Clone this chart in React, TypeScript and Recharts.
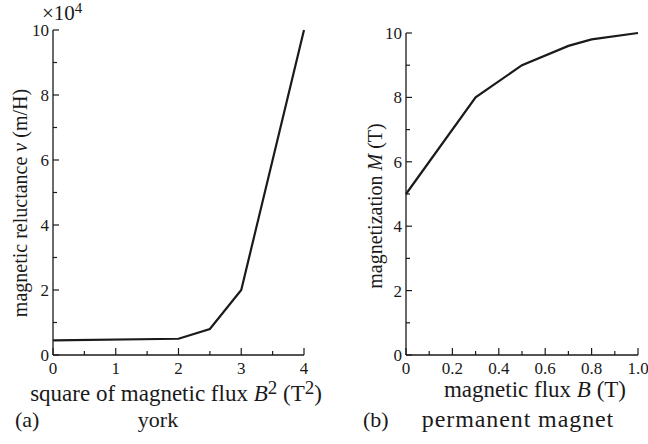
import { LineChart, Line, XAxis, YAxis } from "recharts";

// left: york (values in units of 10^4 m/H)
const yorkB2 = [0, 2, 2.5, 3, 4];
const yorkNu = [0.45, 0.5, 0.8, 2, 10];
const yorkXTicks = [0, 0.5, 1, 1.5, 2, 2.5, 3, 3.5, 4];

// right: permanent magnet
const magnetB = [0, 0.3, 0.5, 0.7, 0.8, 1.0];
const magnetM = [5, 8, 9, 9.6, 9.8, 10];
const magnetXTicks = [0, 0.1, 0.2, 0.3, 0.4, 0.5, 0.6, 0.7, 0.8, 0.9, 1.0];
const magnetXLabels: Record<number, string> = { 0: "0", 0.2: "0.2", 0.4: "0.4", 0.6: "0.6", 0.8: "0.8", 1: "1.0" };

const yTicks = [0, 1, 2, 3, 4, 5, 6, 7, 8, 9, 10];

const FONT = "'Liberation Serif', 'Times New Roman', serif";
const INK = "#1a1a1a";
const serif = { fontFamily: FONT };

const yorkData = yorkB2.map((b, i) => ({ b, v: yorkNu[i] }));
const magnetData = magnetB.map((b, i) => ({ b, m: magnetM[i] }));

// ticks point inward, majors are longer and carry a label
const makeXTick = (isMajor: (v: number) => boolean, label: (v: number) => string) => (props: any) => {
    const { x, y, payload } = props;
    const major = isMajor(payload.value);
    return (
        <g>
            <line x1={x} x2={x} y1={y} y2={y - (major ? 7 : 4)} stroke={INK} strokeWidth={1.2} />
            {major && (
                <text x={x} y={y + 19} textAnchor="middle" style={{ ...serif, fontSize: 17 }} fill={INK}>
                    {label(payload.value)}
                </text>
            )}
        </g>
    );
};

const YTick = (props: any) => {
    const { x, y, payload } = props;
    const major = payload.value % 2 === 0;
    return (
        <g>
            <line x1={x} x2={x + (major ? 6 : 4)} y1={y} y2={y} stroke={INK} strokeWidth={1.2} />
            {major && (
                <text x={x - 4} y={y} dy="0.35em" textAnchor="end" style={{ ...serif, fontSize: 17 }} fill={INK}>
                    {payload.value}
                </text>
            )}
        </g>
    );
};

const YorkXTick = makeXTick((v) => Number.isInteger(v), (v) => String(v));
const MagnetXTick = makeXTick(
    (v) => Math.round(v * 10) % 2 === 0,
    (v) => magnetXLabels[Math.round(v * 10) / 10] ?? ""
);

const axisLine = { stroke: INK, strokeWidth: 1.3 };

export default function App() {
    return (
        <div style={{ position: "absolute", left: 0, top: 0, width: 648, height: 444, background: "#fff", ...serif }}>
            <div style={{ position: "absolute", left: 0, top: 0 }}>
                <LineChart width={320} height={444} data={yorkData} margin={{ top: 30, right: 16, bottom: 59, left: 0 }}>
                    <XAxis
                        dataKey="b"
                        type="number"
                        domain={[0, 4]}
                        ticks={yorkXTicks}
                        interval={0}
                        height={30}
                        tickSize={0}
                        tickMargin={0}
                        tickLine={false}
                        axisLine={axisLine}
                        tick={<YorkXTick />}
                    />
                    <YAxis
                        type="number"
                        domain={[0, 10]}
                        ticks={yTicks}
                        interval={0}
                        width={53}
                        tickSize={0}
                        tickMargin={0}
                        tickLine={false}
                        axisLine={axisLine}
                        tick={<YTick />}
                    />
                    <Line type="linear" dataKey="v" stroke={INK} strokeWidth={2.2} dot={false} isAnimationActive={false} />
                </LineChart>
            </div>
            <div style={{ position: "absolute", left: 324, top: 0 }}>
                <LineChart width={324} height={444} data={magnetData} margin={{ top: 33, right: 10, bottom: 59, left: 0 }}>
                    <XAxis
                        dataKey="b"
                        type="number"
                        domain={[0, 1]}
                        ticks={magnetXTicks}
                        interval={0}
                        height={30}
                        tickSize={0}
                        tickMargin={0}
                        tickLine={false}
                        axisLine={axisLine}
                        tick={<MagnetXTick />}
                    />
                    <YAxis
                        type="number"
                        domain={[0, 10]}
                        ticks={yTicks}
                        interval={0}
                        width={82}
                        tickSize={0}
                        tickMargin={0}
                        tickLine={false}
                        axisLine={axisLine}
                        tick={<YTick />}
                    />
                    <Line type="linear" dataKey="m" stroke={INK} strokeWidth={2.2} dot={false} isAnimationActive={false} />
                </LineChart>
            </div>

            {/* titles, captions and the exponent note */}
            <svg width={648} height={444} style={{ position: "absolute", left: 0, top: 0, pointerEvents: "none", ...serif }}
                fill={INK}>
                <text x={42} y={20} style={{ fontSize: 21 }}>
                    ×10<tspan style={{ fontSize: 15 }} dy={-7}>4</tspan>
                </text>

                <text transform="translate(20,203) rotate(-90)" textAnchor="middle" dominantBaseline="central" style={{ fontSize: 20 }}>
                    magnetic reluctance <tspan fontStyle="italic">ν</tspan> (m/H)
                </text>
                <text transform="translate(375,206) rotate(-90)" textAnchor="middle" dominantBaseline="central" style={{ fontSize: 20 }}>
                    magnetization <tspan fontStyle="italic">M</tspan> (T)
                </text>

                <text x={176} y={401} textAnchor="middle" style={{ fontSize: 23 }}>
                    square of magnetic flux <tspan fontStyle="italic">B</tspan>
                    <tspan style={{ fontSize: 19 }} dy={-7}>2</tspan>
                    <tspan dy={7}> (T</tspan>
                    <tspan style={{ fontSize: 19 }} dy={-7}>2</tspan>
                    <tspan dy={7}>)</tspan>
                </text>
                <text x={535} y={397} textAnchor="middle" style={{ fontSize: 23 }}>
                    magnetic flux <tspan fontStyle="italic">B</tspan> (T)
                </text>

                <text x={15} y={427} style={{ fontSize: 22 }}>(a)</text>
                <text x={158} y={427} textAnchor="middle" style={{ fontSize: 22 }}>york</text>
                <text x={363} y={427} style={{ fontSize: 22 }}>(b)</text>
                <text x={518} y={427} textAnchor="middle" style={{ fontSize: 24, letterSpacing: 0.9 }}>permanent magnet</text>
            </svg>
        </div>
    );
}
